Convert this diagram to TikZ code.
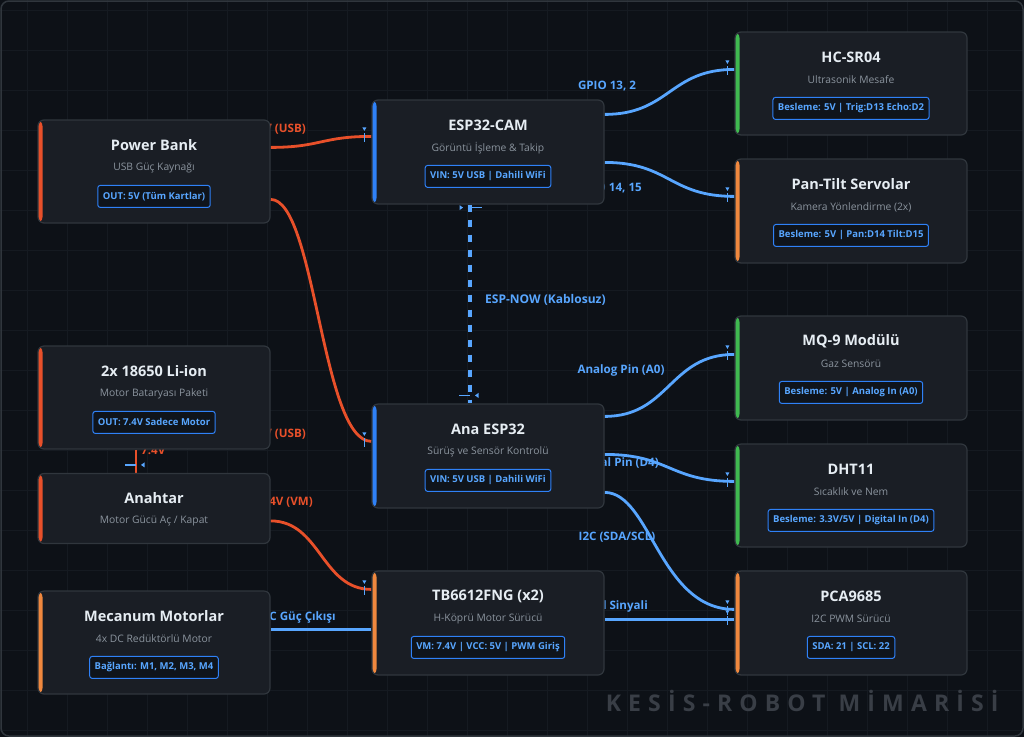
\documentclass[tikz,border=0pt]{standalone}
\usepackage{fontspec}
\setmainfont{Open Sans}
\newfontfamily\wmfont[LetterSpace=31]{Open Sans}
\definecolor{bgc}{HTML}{0D1117}
\definecolor{gridc}{HTML}{151A21}
\definecolor{nodebg}{HTML}{1A1E25}
\definecolor{nodebd}{HTML}{30363D}
\definecolor{ttlc}{HTML}{E6EDF3}
\definecolor{subc}{HTML}{8B949E}
\definecolor{blu}{HTML}{58A6FF}
\definecolor{bluacc}{HTML}{2F81F7}
\definecolor{pwr}{HTML}{E8502A}
\definecolor{org}{HTML}{F0883E}
\definecolor{grn}{HTML}{3FB950}
\definecolor{badgebg}{HTML}{0F141B}
\definecolor{wmc}{HTML}{393E46}
\pgfdeclarelayer{gridlayer}
\pgfdeclarelayer{labellayer}
\pgfdeclarelayer{edgelayer}
\pgfsetlayers{gridlayer,labellayer,edgelayer,main}
\newcommand\comp[8]{%
  \node[box=#5, minimum height=#4pt] (#1) at (#2+116,#3+#4/2) {};
  \node[ttl] (#1t) at ([yshift=-26pt]#1.north) {#6};
  \node[sub] (#1s) at ([yshift=-48.5pt]#1.north) {#7};
  \node[badge] (#1b) at ([yshift=-77pt]#1.north) {#8};}
\newcommand\mkH[1]{%
  \fill[blu] ([shift={(-9,-9)}]#1) -- ++(4,0) -- ++(-2,3.5) -- cycle;
  \draw[blu,line width=1.6pt] ([shift={(-7,-3)}]#1) -- ([shift={(-7,6)}]#1);}
\newcommand\mkD[1]{%
  \draw[blu,line width=1.6pt] ([shift={(-11,-8)}]#1) -- ([shift={(0,-8)}]#1);
  \fill[blu] ([shift={(5,-8)}]#1) -- ++(3.5,-2.5) -- ++(0,5) -- cycle;}
\newcommand\mkU[1]{%
  \draw[blu,line width=1.6pt] ([shift={(0,3)}]#1) -- ([shift={(12,3)}]#1);
  \fill[blu] ([shift={(-7,3)}]#1) -- ++(-3.5,-2.5) -- ++(0,5) -- cycle;}
\begin{document}
\begin{tikzpicture}[x=1pt,y=-1pt,
  box/.style={draw=nodebd, line width=1.2pt, fill=nodebg, rounded corners=6pt,
    minimum width=232pt, inner sep=0pt,
    path picture={\fill[#1] (path picture bounding box.north west) rectangle ([xshift=4.5pt]path picture bounding box.south west);}},
  ttl/.style={text=ttlc, font=\fontsize{14.5}{17}\selectfont\bfseries, inner sep=0pt},
  sub/.style={text=subc, font=\fontsize{10.3}{12}\selectfont, inner sep=0pt},
  badge/.style={draw=bluacc, line width=1pt, fill=badgebg, rounded corners=2.5pt,
    text=blu, font=\fontsize{9.5}{11}\selectfont\bfseries, inner xsep=5pt, inner ysep=0pt, minimum height=22pt},
  elbl/.style={font=\fontsize{11.6}{13}\selectfont\bfseries, inner sep=0pt},
  pwrline/.style={draw=pwr, line width=2.8pt},
  sigline/.style={draw=blu, line width=2.8pt},
  wless/.style={draw=blu, line width=3.5pt, dash pattern=on 7pt off 8pt}
]
\useasboundingbox (0,0) rectangle (1024,737);
\begin{pgfonlayer}{gridlayer}
\fill[bgc] (0,0) rectangle (1024,737);
\foreach \x in {27,67,...,1024} \draw[gridc, line width=0.8pt] (\x,0) -- (\x,737);
\foreach \y in {10,50,...,737} \draw[gridc, line width=0.8pt] (0,\y) -- (1024,\y);
\draw[nodebd, line width=1.5pt, rounded corners=8pt] (1,1) rectangle (1023,736);
\end{pgfonlayer}

% components
\comp{pb}{38}{120}{103}{pwr}{Power Bank}{USB Güç Kaynağı}{OUT: 5V (Tüm Kartlar)}
\comp{bat}{38}{346}{103}{pwr}{2x 18650 Li-ion}{Motor Bataryası Paketi}{OUT: 7.4V Sadece Motor}
\node[box=pwr, minimum height=70pt] (ana) at (154,508.5) {};
\node[ttl] (anat) at ([yshift=-25pt]ana.north) {Anahtar};
\node[sub] (anas) at ([yshift=-48pt]ana.north) {Motor Gücü Aç / Kapat};
\comp{mec}{38}{591}{103}{org}{Mecanum Motorlar}{4x DC Redüktörlü Motor}{Bağlantı: M1, M2, M3, M4}
\comp{cam}{372}{100}{104}{bluacc}{ESP32-CAM}{Görüntü İşleme \& Takip}{VIN: 5V USB | Dahili WiFi}
\comp{esp}{372}{404}{104}{bluacc}{Ana ESP32}{Sürüş ve Sensör Kontrolü}{VIN: 5V USB | Dahili WiFi}
\comp{tb}{372}{571}{104}{org}{TB6612FNG (x2)}{H-Köprü Motor Sürücü}{VM: 7.4V | VCC: 5V | PWM Giriş}
\comp{hc}{735}{32}{103}{grn}{HC-SR04}{Ultrasonik Mesafe}{Besleme: 5V | Trig:D13 Echo:D2}
\comp{pt}{735}{159}{104}{org}{Pan-Tilt Servolar}{Kamera Yönlendirme (2x)}{Besleme: 5V | Pan:D14 Tilt:D15}
\comp{mq}{735}{316}{104}{grn}{MQ-9 Modülü}{Gaz Sensörü}{Besleme: 5V | Analog In (A0)}
\comp{dht}{735}{444}{103}{grn}{DHT11}{Sıcaklık ve Nem}{Besleme: 3.3V/5V | Digital In (D4)}
\comp{pca}{735}{571}{104}{org}{PCA9685}{I2C PWM Sürücü}{SDA: 21 | SCL: 22}

% edge labels
\begin{pgfonlayer}{labellayer}
\node[elbl, text=pwr, anchor=east] (l1) at (306,129) {5V (USB)};
\node[elbl, text=pwr, anchor=east] (l2) at (306,434) {5V (USB)};
\node[elbl, text=pwr, anchor=west] (l3) at (141,450) {7.4V};
\node[elbl, text=pwr, anchor=east] (l4) at (313,502) {7.4V (VM)};
\node[elbl, text=blu] (l5) at (607,86) {GPIO 13, 2};
\node[elbl, text=blu, anchor=east] (l6) at (642,188) {GPIO 14, 15};
\node[elbl, text=blu, anchor=west, font=\fontsize{12}{14}\selectfont\bfseries] (l7) at (485,300) {ESP-NOW (Kablosuz)};
\node[elbl, text=blu] (l8) at (621,370) {Analog Pin (A0)};
\node[elbl, text=blu, anchor=east] (l9) at (659,463) {Digital Pin (D4)};
\node[elbl, text=blu] (l10) at (617,537) {I2C (SDA/SCL)};
\node[elbl, text=blu, anchor=east] (l11) at (648,606) {PWM Kontrol Sinyali};
\node[elbl, text=blu, anchor=east] (l12) at (336,617) {DC Güç Çıkışı};
\end{pgfonlayer}

% edges
\begin{pgfonlayer}{edgelayer}
\coordinate (e1) at ([yshift=-37pt]cam.north west);
\coordinate (e2) at ([yshift=-38pt]esp.north west);
\coordinate (e3) at ([xshift=-18pt]ana.north);
\coordinate (e4) at ([yshift=-19pt]tb.north west);
\coordinate (e5) at ([yshift=-38pt]hc.north west);
\coordinate (e6) at ([yshift=-38pt]pt.north west);
\coordinate (e7a) at ([xshift=-18pt]cam.south);
\coordinate (e7b) at ([xshift=-18pt]esp.north);
\coordinate (e8) at ([yshift=-39pt]mq.north west);
\coordinate (e9) at ([yshift=-38pt]dht.north west);
\coordinate (e10) at ([yshift=-39pt]pca.north west);
\coordinate (e11) at ([yshift=-49pt]pca.north west);
\draw[pwrline] ([yshift=-28pt]pb.north east) .. controls +(50,0) and +(-50,0) .. (e1);
\draw[pwrline] ([yshift=-80pt]pb.north east) .. controls +(45,0) and +(-50,0) .. (e2);
\draw[pwrline] ([xshift=-18pt]bat.south) -- (e3);
\draw[pwrline] ([yshift=-48pt]ana.north east) .. controls +(50,0) and +(-50,0) .. (e4);
\draw[sigline] ([yshift=-15pt]cam.north east) .. controls +(65,0) and +(-65,0) .. (e5);
\draw[sigline] ([yshift=-63pt]cam.north east) .. controls +(65,0) and +(-65,0) .. (e6);
\draw[wless] (e7a) -- (e7b);
\draw[sigline] ([yshift=-13pt]esp.north east) .. controls +(65,0) and +(-65,0) .. (e8);
\draw[sigline] ([yshift=-51pt]esp.north east) .. controls +(65,0) and +(-65,0) .. (e9);
\draw[sigline] ([yshift=-89pt]esp.north east) .. controls +(46,0) and +(-75,0) .. (e10);
\draw[sigline] ([yshift=-49pt]tb.north east) -- (e11);
\draw[sigline] ([yshift=-59pt]tb.north west) -- ([yshift=-39pt]mec.north east);
\mkH{e1} \mkH{e2} \mkD{e3} \mkH{e4} \mkH{e5} \mkH{e6}
\mkU{e7a} \mkD{e7b} \mkH{e8} \mkH{e9} \mkH{e10} \mkH{e11}
\end{pgfonlayer}

\node[anchor=east, text=wmc, font=\wmfont\fontsize{23}{26}\selectfont\bfseries] (wm) at (1002,701) {KESİS-ROBOT MİMARİSİ};
\end{tikzpicture}
\end{document}
